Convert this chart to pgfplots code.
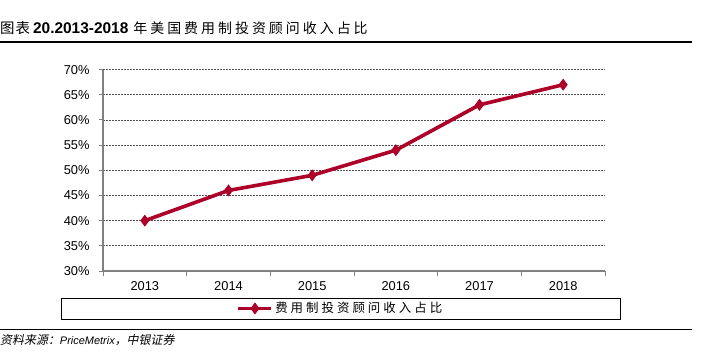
\documentclass[border=0pt]{standalone}
\usepackage{fontspec}
\setmainfont{Liberation Sans}
\newfontfamily\cjk{Noto Sans CJK SC}
\newfontfamily\cjkit[FakeSlant=0.2]{Noto Sans CJK SC}
\usepackage{pgfplots}
\pgfplotsset{compat=1.18}
\definecolor{lred}{RGB}{172,0,40}
\definecolor{axgray}{RGB}{128,128,128}
\definecolor{gridgray}{RGB}{80,80,80}
\newcommand{\csp}[1]{#1\hspace{3bp}}
\begin{document}
\begin{tikzpicture}[x=1bp,y=1bp]
\useasboundingbox (0,0) rectangle (701,353);
% title
\node[anchor=base west, inner sep=0] at (0,320) {{\cjk\fontsize{14.5}{15}\selectfont 图\hspace{1bp}表}\hspace{3bp}{\fontsize{15.5}{16}\selectfont\bfseries 20.2013-2018}\hspace{5bp}{\cjk\fontsize{14}{15}\selectfont 年\hspace{3bp}美\hspace{3bp}国\hspace{3bp}费\hspace{3bp}用\hspace{3bp}制\hspace{3bp}投\hspace{3bp}资\hspace{3bp}顾\hspace{3bp}问\hspace{3bp}收\hspace{3bp}入\hspace{3bp}占\hspace{3bp}比}};
\draw[line width=1.5bp] (0,311) -- (692,311);
\draw[line width=1bp] (0,24) -- (692,24);
\node[anchor=base west, inner sep=0] at (0,9) {{\cjkit\fontsize{12}{13}\selectfont 资料来源：}{\fontsize{11}{12}\selectfont\itshape PriceMetrix}{\cjkit\fontsize{12}{13}\selectfont ，中银证券}};
\begin{axis}[
  at={(103bp,82bp)}, anchor=south west,
  scale only axis, width=502bp, height=201.4bp,
  xmin=-0.5, xmax=5.5, ymin=30, ymax=70,
  axis x line*=bottom, axis y line*=left,
  axis line style={draw=axgray, line width=1.3bp, -},
  xtick={0,1,2,3,4,5},
  xticklabels={2013,2014,2015,2016,2017,2018},
  minor xtick={-0.5,0.5,1.5,2.5,3.5,4.5,5.5},
  xtick style={draw=none},
  minor x tick style={draw=axgray, line width=1bp},
  minor tick length=5bp,
  ytick={30,35,...,70},
  yticklabel={\pgfmathprintnumber{\tick}\%},
  ytick style={draw=axgray, line width=1bp},
  major tick length=4bp,
  tick align=outside,
  ymajorgrids,
  grid style={draw=gridgray, line width=0.8bp, dash pattern=on 2bp off 1bp},
  ticklabel style={font=\fontsize{12.9}{14}\selectfont},
  /pgf/number format/assume math mode=true,
  yticklabel style={xshift=-6bp},
  xticklabel style={yshift=-3bp},
  legend style={at={(0.473,-0.186)}, anchor=center, draw=none, fill=none,
    font=\cjk\fontsize{12.5}{14}\selectfont, inner sep=0pt},
  legend image code/.code={\draw[mark repeat=2,mark phase=2,#1] plot coordinates {(0bp,0bp) (16.5bp,0bp) (33bp,0bp)};},
  clip=false,
]
\addplot[color=lred, line width=3.6bp, mark=diamond*, mark size=5.2bp, mark options={line width=1bp}]
  coordinates {(0,40) (1,46) (2,49) (3,54) (4,63) (5,67)};
\addlegendentry{\csp{费}\csp{用}\csp{制}\csp{投}\csp{资}\csp{顾}\csp{问}\csp{收}\csp{入}\csp{占}比}
\end{axis}
\draw[line width=1bp] (61,34) rectangle (620,55);
\end{tikzpicture}
\end{document}
